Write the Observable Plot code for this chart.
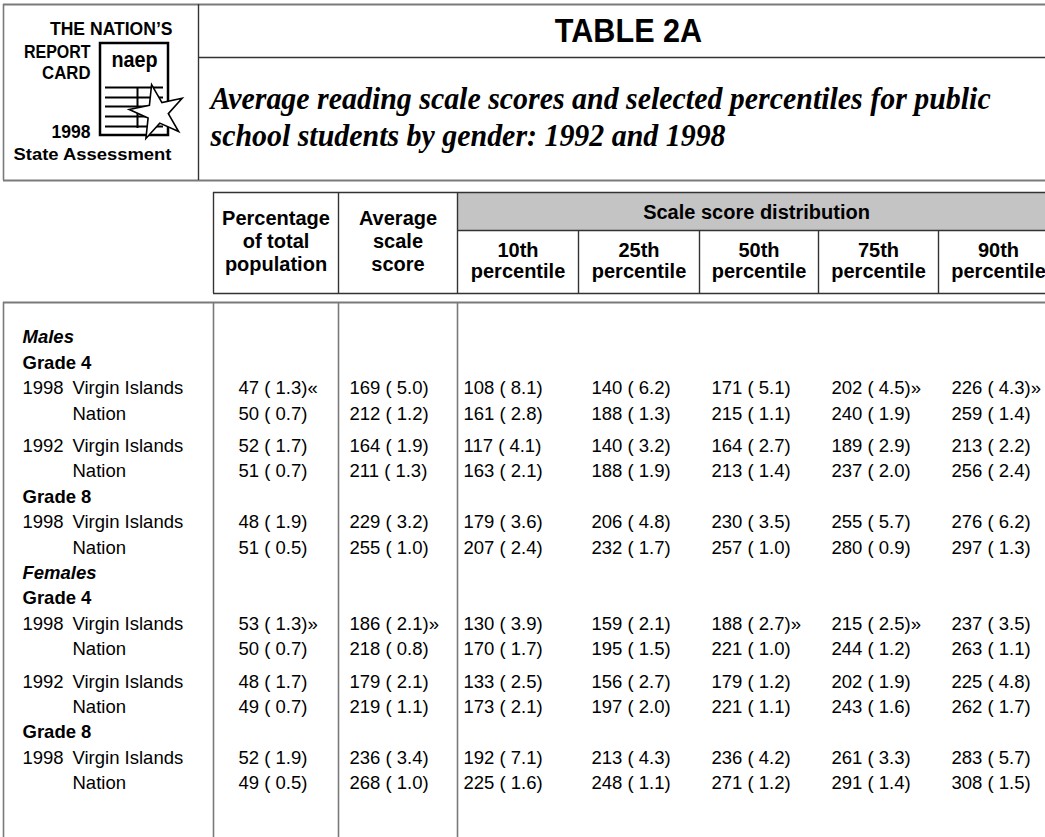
<!DOCTYPE html>
<html><head><meta charset="utf-8">
<script src="https://cdn.jsdelivr.net/npm/d3@7"></script>
<script src="https://cdn.jsdelivr.net/npm/@observablehq/plot@0.6"></script>
<style>body{margin:0;background:#fff} svg{display:block}</style>
</head><body><div id="chart"></div>
<script>
// ---------- DATA ----------
const tableTitle = "TABLE 2A";
const subtitleLines = ["Average reading scale scores and selected percentiles for public",
                       "school students by gender: 1992 and 1998"];
const logoLines = ["THE NATION\u2019S", "REPORT", "CARD", "1998", "State Assessment"];
const logoMark = "naep";
const columnHeaders = ["Percentage\nof total\npopulation", "Average\nscale\nscore"];
const groupHeader = "Scale score distribution";
const percentileHeaders = ["10th\npercentile", "25th\npercentile", "50th\npercentile", "75th\npercentile", "90th\npercentile"];

const genders = ["Males","Males","Males","Males","Males","Males","Females","Females","Females","Females","Females","Females"];
const grades = ["Grade 4","Grade 4","Grade 4","Grade 4","Grade 8","Grade 8","Grade 4","Grade 4","Grade 4","Grade 4","Grade 8","Grade 8"];
const years = ["1998","1998","1992","1992","1998","1998","1998","1998","1992","1992","1998","1998"];
const jurisdictions = ["Virgin Islands","Nation","Virgin Islands","Nation","Virgin Islands","Nation","Virgin Islands","Nation","Virgin Islands","Nation","Virgin Islands","Nation"];

const pctTotal = [47, 50, 52, 51, 48, 51, 53, 50, 48, 49, 52, 49];
const pctTotalSE = [1.3, 0.7, 1.7, 0.7, 1.9, 0.5, 1.3, 0.7, 1.7, 0.7, 1.9, 0.5];
const pctTotalFlag = ["\u00ab","","","","","","\u00bb","","","","",""];
const avgScore = [169, 212, 164, 211, 229, 255, 186, 218, 179, 219, 236, 268];
const avgScoreSE = [5.0, 1.2, 1.9, 1.3, 3.2, 1.0, 2.1, 0.8, 2.1, 1.1, 3.4, 1.0];
const avgScoreFlag = ["","","","","","","\u00bb","","","","",""];
const p10 = [108, 161, 117, 163, 179, 207, 130, 170, 133, 173, 192, 225];
const p10SE = [8.1, 2.8, 4.1, 2.1, 3.6, 2.4, 3.9, 1.7, 2.5, 2.1, 7.1, 1.6];
const p10Flag = ["","","","","","","","","","","",""];
const p25 = [140, 188, 140, 188, 206, 232, 159, 195, 156, 197, 213, 248];
const p25SE = [6.2, 1.3, 3.2, 1.9, 4.8, 1.7, 2.1, 1.5, 2.7, 2.0, 4.3, 1.1];
const p25Flag = ["","","","","","","","","","","",""];
const p50 = [171, 215, 164, 213, 230, 257, 188, 221, 179, 221, 236, 271];
const p50SE = [5.1, 1.1, 2.7, 1.4, 3.5, 1.0, 2.7, 1.0, 1.2, 1.1, 4.2, 1.2];
const p50Flag = ["","","","","","","\u00bb","","","","",""];
const p75 = [202, 240, 189, 237, 255, 280, 215, 244, 202, 243, 261, 291];
const p75SE = [4.5, 1.9, 2.9, 2.0, 5.7, 0.9, 2.5, 1.2, 1.9, 1.6, 3.3, 1.4];
const p75Flag = ["\u00bb","","","","","","\u00bb","","","","",""];
const p90 = [226, 259, 213, 256, 276, 297, 237, 263, 225, 262, 283, 308];
const p90SE = [4.3, 1.4, 2.2, 2.4, 6.2, 1.3, 3.5, 1.1, 4.8, 1.7, 5.7, 1.5];
const p90Flag = ["\u00bb","","","","","","","","","","",""];

// ---------- LAYOUT ----------
const W = 1045, H = 837;
const L = {
  left: 3, right: 1045, headTop: 4, headBottom: 180, headDiv: 198, titleRule: 57,
  titleX: 628, titleY: 31, subX: 210, subY: [99, 136],
  thTop: 192, bandBottom: 230, thBottom: 293, bodyTop: 302,
  colEdges: [213, 338, 457, 578, 699, 818, 938, 1058],
  valueX: [238, 349, 463, 591, 711, 831, 951],
  labelX: 22, jurX: 72,
  firstLineY: 337, pitch: 25.4, yearGap: 7,
  headLineY: 240, pctHeadY: 260, groupY: 212
};
const SANS = "'Liberation Sans', Arial, Helvetica, sans-serif";
const SERIF = "'Liberation Serif', 'Times New Roman', serif";

// build body line list
const genderLines = [], gradeLines = [], dataLines = [];
{
  let y = L.firstLineY, prevG = null, prevGr = null, prevY = null, first = true;
  const step = () => { if (!first) y += L.pitch; first = false; };
  for (let i = 0; i < genders.length; i++) {
    if (genders[i] !== prevG) { step(); genderLines.push({y, text: genders[i]}); prevGr = null; prevY = null; }
    if (grades[i] !== prevGr) { step(); gradeLines.push({y, text: grades[i]}); prevY = null; }
    step();
    if (prevY !== null && years[i] !== prevY) y += L.yearGap;
    dataLines.push({i, y, year: years[i] !== prevY ? years[i] : "", jur: jurisdictions[i]});
    prevG = genders[i]; prevGr = grades[i]; prevY = years[i];
  }
}
const cols = [
  [pctTotal, pctTotalSE, pctTotalFlag], [avgScore, avgScoreSE, avgScoreFlag],
  [p10, p10SE, p10Flag], [p25, p25SE, p25Flag], [p50, p50SE, p50Flag],
  [p75, p75SE, p75Flag], [p90, p90SE, p90Flag]
];
const cells = [];
cols.forEach(([v, se, fl], c) => dataLines.forEach(d => cells.push({
  x: L.valueX[c], y: d.y, text: `${v[d.i]} ( ${se[d.i].toFixed(1)})${fl[d.i]}`
})));

// frame segments
const grayH = [
  {y: L.headTop, x1: L.left, x2: L.right}, {y: L.headBottom, x1: L.left, x2: L.right},
  {y: L.bodyTop, x1: L.left, x2: L.right}
];
const grayV = [
  {x: L.left, y1: L.headTop, y2: L.headBottom},
  ...[L.left, ...L.colEdges.slice(0, 3)].map(x => ({x, y1: L.bodyTop, y2: H}))
];
const darkH = [
  {y: L.titleRule, x1: L.headDiv, x2: L.right},
  {y: L.thTop, x1: L.colEdges[0], x2: L.right}, {y: L.thBottom, x1: L.colEdges[0], x2: L.right},
  {y: L.bandBottom, x1: L.colEdges[2], x2: L.right}
];
const darkV = [
  {x: L.headDiv, y1: L.headTop, y2: L.headBottom},
  ...L.colEdges.slice(0, 3).map(x => ({x, y1: L.thTop, y2: L.thBottom})),
  ...L.colEdges.slice(3, 7).map(x => ({x, y1: L.bandBottom, y2: L.thBottom}))
];

// logo parts (x, y, horizontal squeeze)
const logoEnd = [
  {x: 172, y: 29, k: 0.9, t: logoLines[0]},
  {x: 90, y: 51.5, k: 0.82, t: logoLines[1]},
  {x: 90, y: 73, k: 0.86, t: logoLines[2]},
  {x: 90, y: 132, k: 0.9, t: logoLines[3]}
];
const logoMid = [{x: 92, y: 154, k: 0.97, t: logoLines[4]}];
const logoFrame = {x1: 100, x2: 168, y1: 43, y2: 135};
const logoH = [87, 97, 106, 116, 126].map(y => ({y, x1: 105, x2: 163}));
const logoV = [137, 152].map(x => ({x, y1: 87, y2: 128}));

const chart = Plot.plot({
  width: W, height: H, margin: 0,
  x: {domain: [0, W], range: [0, W], axis: null},
  y: {domain: [0, H], range: [0, H], axis: null},
  style: {background: "#fff"},
  marks: [
    Plot.rect([groupHeader], {x1: L.colEdges[2], x2: L.right, y1: L.thTop, y2: L.bandBottom, fill: "#c4c4c4"}),
    Plot.ruleY(grayH, {y: "y", x1: "x1", x2: "x2", stroke: "#7a7a7a", strokeWidth: 2}),
    Plot.ruleX(grayV, {x: "x", y1: "y1", y2: "y2", stroke: "#7a7a7a", strokeWidth: 1.6}),
    Plot.ruleY(darkH, {y: "y", x1: "x1", x2: "x2", stroke: "#333", strokeWidth: 1.4}),
    Plot.ruleX(darkV, {x: "x", y1: "y1", y2: "y2", stroke: "#333", strokeWidth: 1.4}),
    // logo
    Plot.rect([logoFrame], {x1: "x1", x2: "x2", y1: "y1", y2: "y2", fill: "#fff", stroke: "#000", strokeWidth: 2.5}),
    Plot.ruleY(logoH, {y: "y", x1: "x1", x2: "x2", stroke: "#000", strokeWidth: 2.2}),
    Plot.ruleX(logoV, {x: "x", y1: "y1", y2: "y2", stroke: "#000", strokeWidth: 2}),
    Plot.dot([logoMark], {x: 157, y: 112, symbol: "star", r: 17, fill: "#fff", stroke: "#000", strokeWidth: 1.6, rotate: -12}),
    Plot.text([logoMark], {x: 134, y: 59, text: d => d, fontSize: 22, fontWeight: 900, fontFamily: SANS, fill: "#000", lineAnchor: "middle", ariaDescription: "logo-mark"}),
    Plot.text(logoEnd, {x: "x", y: "y", text: "t", textAnchor: "end", fontSize: 19.5, fontWeight: "bold", fontFamily: SANS, fill: "#000", lineAnchor: "middle", ariaDescription: "logo-end"}),
    Plot.text(logoMid, {x: "x", y: "y", text: "t", textAnchor: "middle", fontSize: 19, fontWeight: "bold", fontFamily: SANS, fill: "#000", lineAnchor: "middle", ariaDescription: "logo-mid"}),
    // title + subtitle
    Plot.text([tableTitle], {x: L.titleX, y: L.titleY, text: d => d, fontSize: 34, fontWeight: "bold", fontFamily: SANS, fill: "#000", lineAnchor: "middle", ariaDescription: "title"}),
    Plot.text(subtitleLines, {x: L.subX, y: (d, i) => L.subY[i], text: d => d, textAnchor: "start", fontSize: 31, fontWeight: "bold", fontStyle: "italic", fontFamily: SERIF, fill: "#000", lineAnchor: "middle", ariaDescription: "subtitle"}),
    // column headers
    Plot.text(columnHeaders, {x: (d, i) => (L.colEdges[i] + L.colEdges[i + 1]) / 2, y: L.headLineY, text: d => d, fontSize: 20, fontWeight: "bold", fontFamily: SANS, lineHeight: 1.15, fill: "#000", lineAnchor: "middle"}),
    Plot.text([groupHeader], {x: (L.colEdges[2] + L.right) / 2 + 5, y: L.groupY, text: d => d, fontSize: 20, fontWeight: "bold", fontFamily: SANS, fill: "#000", lineAnchor: "middle"}),
    Plot.text(percentileHeaders, {x: (d, i) => (L.colEdges[i + 2] + L.colEdges[i + 3]) / 2, y: L.pctHeadY, text: d => d, fontSize: 20, fontWeight: "bold", fontFamily: SANS, lineHeight: 1.05, fill: "#000", lineAnchor: "middle"}),
    // section headings
    Plot.text(genderLines, {x: L.labelX, y: "y", text: "text", textAnchor: "start", fontSize: 18.5, fontWeight: "bold", fontStyle: "italic", fontFamily: SANS, fill: "#000", lineAnchor: "middle"}),
    Plot.text(gradeLines, {x: L.labelX, y: "y", text: "text", textAnchor: "start", fontSize: 18.5, fontWeight: "bold", fontFamily: SANS, fill: "#000", lineAnchor: "middle"}),
    // row labels
    Plot.text(dataLines, {x: L.labelX, y: "y", text: "year", textAnchor: "start", fontSize: 18.5, fontFamily: SANS, fill: "#000", lineAnchor: "middle"}),
    Plot.text(dataLines, {x: L.jurX, y: "y", text: "jur", textAnchor: "start", fontSize: 18.5, fontFamily: SANS, fill: "#000", lineAnchor: "middle"}),
    // values
    Plot.text(cells, {x: "x", y: "y", text: "text", textAnchor: "start", fontSize: 18.5, fontFamily: SANS, fill: "#000", lineAnchor: "middle"})
  ]
});

// condensed typefaces (narrow fonts are not installed): squeeze around each text's anchor
function condense(label, kx, ky = 1) {
  d3.select(chart).selectAll(`g[aria-description="${label}"] text`).each(function (_, j) {
    const t = this.getAttribute("transform") || "";
    const k = typeof kx === "function" ? kx(j) : kx;
    this.setAttribute("transform", `${t} scale(${k},${ky})`);
  });
}
condense("logo-end", j => logoEnd[j].k, 0.9);
condense("logo-mid", j => logoMid[j].k, 0.9);
condense("logo-mark", 0.9);
condense("title", 0.9);
condense("subtitle", 0.965);
document.getElementById("chart").appendChild(chart);
</script>
</body></html>
